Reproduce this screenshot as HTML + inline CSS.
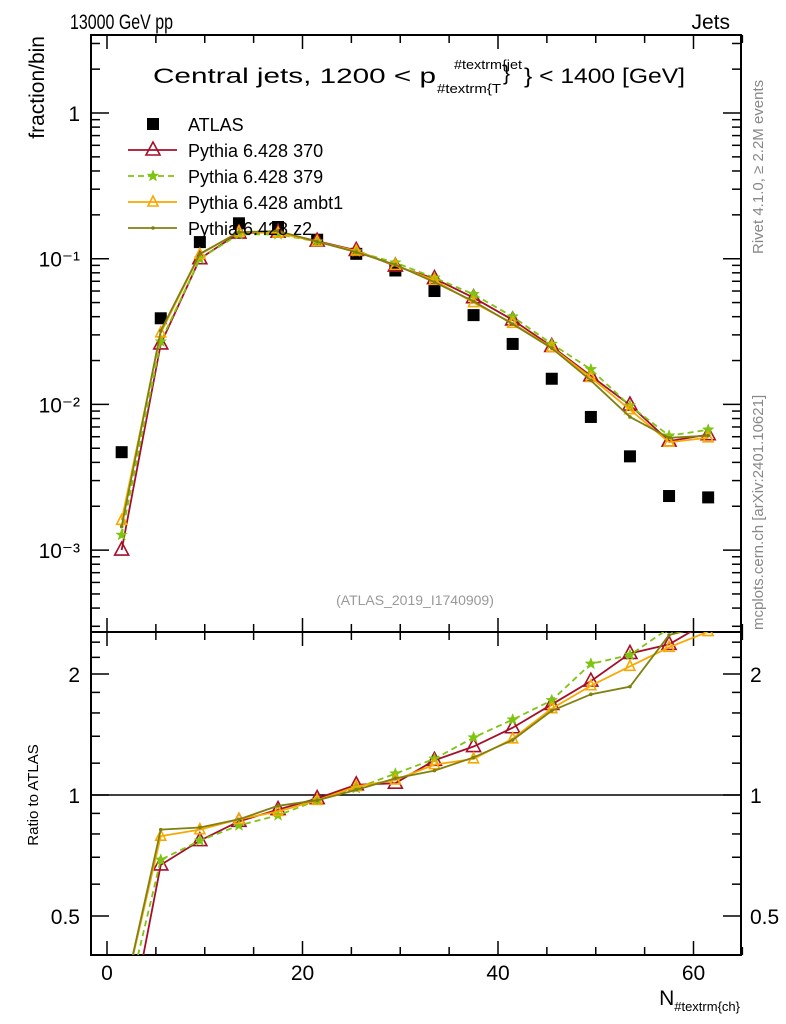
<!DOCTYPE html>
<html><head><meta charset="utf-8">
<style>
html,body{margin:0;padding:0;background:#fff;}
svg{display:block;font-family:"Liberation Sans",sans-serif;}
</style></head>
<body>
<svg id="chart" width="786" height="1024" viewBox="0 0 786 1024" xmlns="http://www.w3.org/2000/svg">
<rect width="786" height="1024" fill="#fff"/>
<text x="70" y="29" font-size="21" textLength="103" lengthAdjust="spacingAndGlyphs">13000 GeV pp</text>
<text x="730" y="29" font-size="21" text-anchor="end">Jets</text>
<text x="153" y="83" font-size="21" textLength="283" lengthAdjust="spacingAndGlyphs">Central jets, 1200 &lt; p</text>
<text x="437" y="93" font-size="13" textLength="64" lengthAdjust="spacingAndGlyphs">#textrm{T</text>
<text x="503" y="80" font-size="21">}</text>
<text x="454" y="69" font-size="13" textLength="68" lengthAdjust="spacingAndGlyphs">#textrm{jet</text>
<text x="524" y="83" font-size="21" textLength="161" lengthAdjust="spacingAndGlyphs">} &lt; 1400 [GeV]</text>
<text transform="translate(44,36) rotate(-90)" font-size="21" text-anchor="end">fraction/bin</text>
<text transform="translate(38,795) rotate(-90)" font-size="15" text-anchor="middle">Ratio to ATLAS</text>
<text transform="translate(763,254) rotate(-90)" font-size="15" fill="#888">Rivet 4.1.0, ≥ 2.2M events</text>
<text transform="translate(763,630) rotate(-90)" font-size="15" fill="#888">mcplots.cern.ch [arXiv:2401.10621]</text>
<text x="415" y="605" font-size="14" fill="#999" text-anchor="middle">(ATLAS_2019_I1740909)</text>
<text x="740" y="1005" font-size="21" text-anchor="end">N<tspan font-size="13" dy="6">#textrm{ch}</tspan></text>
<g id="topPanel"></g><g id="botPanel"></g><g id="legendGroup"></g>
</svg>
<script>
const xCenters=[1.5,5.5,9.5,13.5,17.5,21.5,25.5,29.5,33.5,37.5,41.5,45.5,49.5,53.5,57.5,61.5];
const atlas=[4.7e-3,0.039,0.13,0.175,0.165,0.135,0.108,0.083,0.06,0.041,0.026,0.015,0.0082,0.0044,0.00235,0.0023];
const p370=[1.0e-3,0.026,0.1,0.15,0.152,0.132,0.114,0.089,0.073,0.054,0.038,0.025,0.0157,0.0099,0.0056,0.0062];
const p379=[1.27e-3,0.027,0.1,0.147,0.147,0.131,0.112,0.094,0.074,0.057,0.040,0.026,0.0174,0.0098,0.0061,0.0067];
const pambt1=[1.6e-3,0.031,0.107,0.153,0.15,0.131,0.113,0.09,0.071,0.05,0.036,0.0246,0.0153,0.0092,0.0055,0.0059];
const pz2=[1.45e-3,0.032,0.108,0.152,0.155,0.131,0.111,0.091,0.069,0.051,0.0356,0.0243,0.0146,0.0082,0.0059,0.0061];
const r370=[0.21,0.67,0.77,0.86,0.92,0.98,1.06,1.07,1.22,1.32,1.47,1.68,1.92,2.25,2.37,2.7];
const r379=[0.27,0.69,0.77,0.84,0.89,0.97,1.04,1.13,1.23,1.39,1.54,1.72,2.12,2.23,2.6,2.9];
const rambt1=[0.3,0.79,0.82,0.87,0.91,0.97,1.05,1.09,1.19,1.23,1.38,1.64,1.87,2.09,2.33,2.55];
const rz2=[0.3,0.82,0.83,0.87,0.94,0.97,1.03,1.10,1.15,1.24,1.37,1.62,1.78,1.86,2.5,2.65];
const xTicks=[0,20,40,60];
const yTickLabels=["10⁻³","10⁻²","10⁻¹","1"];
const ratioTicks=[0.5,1,2];

const NS="http://www.w3.org/2000/svg";
const L=91,R=741,T=35,M=632,B=955;
const X=v=>107+v*9.775;
const Y=v=>113-Math.log10(v)*145.7;
const RY=v=>795-Math.log2(v)*121;
function el(tag,attrs,parent,txt){const e=document.createElementNS(NS,tag);for(const k in attrs)e.setAttribute(k,attrs[k]);if(txt!==undefined)e.textContent=txt;parent.appendChild(e);return e;}
const topG=document.getElementById('topPanel'),botG=document.getElementById('botPanel'),legG=document.getElementById('legendGroup');

const defs=el('defs',{},document.getElementById('chart'));
const c1=el('clipPath',{id:'ctop'},defs);el('rect',{x:L,y:T,width:R-L,height:M-T},c1);
const c2=el('clipPath',{id:'cbot'},defs);el('rect',{x:L,y:M,width:R-L,height:B-M},c2);

let fr=el('rect',{x:L,y:T,width:R-L,height:M-T,fill:'none',stroke:'#000','stroke-width':2},topG);


fr=el('rect',{x:L,y:M,width:R-L,height:B-M,fill:'none',stroke:'#000','stroke-width':2},botG);



for(let v=0;v<=65;v+=5){const x=X(v);const big=v%20===0;const h=big?14:8;
 for(const [g,y0,y1] of [[topG,T,M],[botG,M,B]]){
  el('line',{x1:x,x2:x,y1:y1,y2:y1-h,stroke:'#000','stroke-width':1.5},g);
  el('line',{x1:x,x2:x,y1:y0,y2:y0+h,stroke:'#000','stroke-width':1.5},g);}}
xTicks.forEach(v=>{const t=el('text',{x:X(v),y:980,'font-size':21,'text-anchor':'middle'},botG,String(v));
 
 });

for(let e=-4;e<=0;e++){for(let m=1;m<10;m++){const v=m*Math.pow(10,e);const y=Y(v);if(y<T||y>M)continue;const h=m===1?18:9;
 el('line',{x1:L,x2:L+h,y1:y,y2:y,stroke:'#000','stroke-width':1.5},topG);
 el('line',{x1:R,x2:R-h,y1:y,y2:y,stroke:'#000','stroke-width':1.5},topG);}}
yTickLabels.forEach((s,i)=>{const v=Math.pow(10,i-3);const t=el('text',{x:80,y:Y(v)+8,'font-size':21,'text-anchor':'end'},topG,s);
 
 });

[0.4,0.5,0.6,0.7,0.8,0.9,1,1.2,1.4,1.6,1.8,2,2.2,2.4].forEach(v=>{const y=RY(v);if(y<M||y>B)return;const big=ratioTicks.includes(v);const h=big?18:9;
 el('line',{x1:L,x2:L+h,y1:y,y2:y,stroke:'#000','stroke-width':1.5},botG);
 el('line',{x1:R,x2:R-h,y1:y,y2:y,stroke:'#000','stroke-width':1.5},botG);});
ratioTicks.forEach(v=>{let t=el('text',{x:80,y:RY(v)+8,'font-size':21,'text-anchor':'end'},botG,String(v));
 
 
 t=el('text',{x:750,y:RY(v)+8,'font-size':21},botG,String(v));
 
 });
let ln=el('line',{x1:L,x2:R,y1:RY(1),y2:RY(1),stroke:'#000','stroke-width':1.5},botG);



const series=[
 {name:'p370',vals:p370,rat:r370,color:'#a50f2a',dash:'',marker:'tri',w:1.8},
 {name:'p379',vals:p379,rat:r379,color:'#7ec411',dash:'6,4',marker:'star',w:1.8},
 {name:'pambt1',vals:pambt1,rat:rambt1,color:'#f8a800',dash:'',marker:'tri-small',w:1.8},
 {name:'pz2',vals:pz2,rat:rz2,color:'#808010',dash:'',marker:'dot',w:1.8}];
function marker(g,m,x,y,c){
 if(m==='tri'){return el('polygon',{points:`${x},${y-8} ${x-7},${y+5} ${x+7},${y+5}`,fill:'none',stroke:c,'stroke-width':1.6},g);}
 if(m==='tri-small'){return el('polygon',{points:`${x},${y-6} ${x-5},${y+4} ${x+5},${y+4}`,fill:'none',stroke:c,'stroke-width':1.6},g);}
 if(m==='star'){let p=[];for(let i=0;i<10;i++){const r=i%2?2.5:6;const a=-Math.PI/2+i*Math.PI/5;p.push((x+r*Math.cos(a)).toFixed(1)+','+(y+r*Math.sin(a)).toFixed(1));}
  return el('polygon',{points:p.join(' '),fill:c,stroke:c,'stroke-width':0.5},g);}
 return el('circle',{cx:x,cy:y,r:1.8,fill:c},g);}

const tg=el('g',{'clip-path':'url(#ctop)'},topG);
const bg=el('g',{'clip-path':'url(#cbot)'},botG);
atlas.forEach((v,i)=>{const r=el('rect',{x:X(xCenters[i])-6,y:Y(v)-6,width:12,height:12,fill:'#000'},tg);
 
 });
series.forEach(s=>{
 const pl=el('polyline',{points:s.vals.map((v,i)=>X(xCenters[i])+','+Y(v)).join(' '),fill:'none',stroke:s.color,'stroke-width':s.w,'stroke-dasharray':s.dash},tg);
 
 
 s.vals.forEach((v,i)=>{const m=marker(tg,s.marker,X(xCenters[i]),Y(v),s.color);
  
  });
 const rl=el('polyline',{points:s.rat.map((v,i)=>X(xCenters[i])+','+RY(v)).join(' '),fill:'none',stroke:s.color,'stroke-width':s.w,'stroke-dasharray':s.dash},bg);
 
 
 s.rat.forEach((v,i)=>{const m=marker(bg,s.marker,X(xCenters[i]),RY(v),s.color);
  
  });
});

const legItems=[['ATLAS',null],['Pythia 6.428 370',series[0]],['Pythia 6.428 379',series[1]],['Pythia 6.428 ambt1',series[2]],['Pythia 6.428 z2',series[3]]];
legItems.forEach((it,i)=>{const y=124+i*26;const g=el('g',{},legG);
 
 
 if(!it[1]){el('rect',{x:147,y:y-6,width:12,height:12,fill:'#000'},g);}
 else{const s=it[1];el('line',{x1:128,x2:177,y1:y,y2:y,stroke:s.color,'stroke-width':1.8,'stroke-dasharray':s.dash},g);marker(g,s.marker,153,y,s.color);}
 el('text',{x:188,y:y+7,'font-size':18},g,it[0]);});
</script>
</body></html>
